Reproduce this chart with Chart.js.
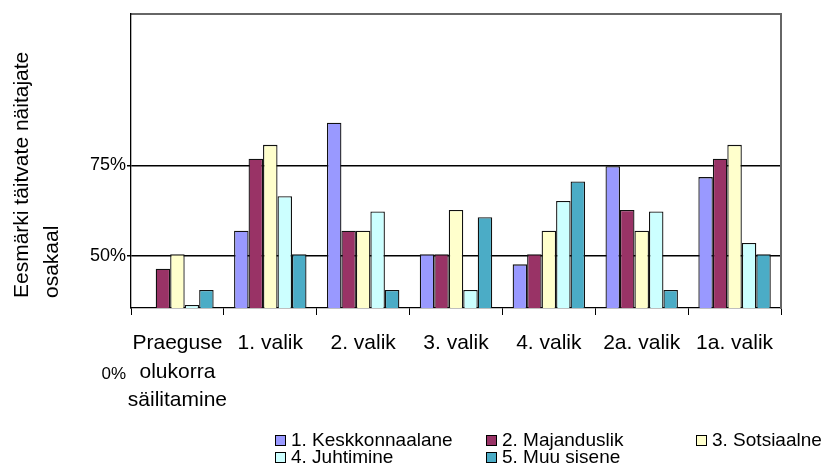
<!DOCTYPE html>
<html>
<head>
<meta charset="utf-8">
<script src="https://cdn.jsdelivr.net/npm/chart.js@4.4.1/dist/chart.umd.min.js"></script>
<style>
  html, body { margin: 0; padding: 0; background: #fff; }
  #wrap { position: relative; width: 828px; height: 464px; }
</style>
</head>
<body>
<div id="wrap"><canvas id="c" width="828" height="464"></canvas></div>
<script>
const categories = [['Praeguse', 'olukorra', 'säilitamine'], '1. valik', '2. valik', '3. valik', '4. valik', '2a. valik', '1a. valik'];
const seriesNames = ['1. Keskkonnaalane', '2. Majanduslik', '3. Sotsiaalne', '4. Juhtimine', '5. Muu sisene'];
const keskkonnaalane = [null, 57.0, 86.8, 50.5, 47.7, 74.8, 71.8];
const majanduslik   = [46.5, 76.9, 57.0, 50.5, 50.5, 62.7, 76.9];
const sotsiaalne    = [50.5, 80.7, 57.0, 62.7, 57.0, 57.0, 80.7];
const juhtimine     = [36.5, 66.5, 62.3, 40.6, 65.2, 62.3, 53.6];
const muuSisene     = [40.6, 50.5, 40.6, 60.7, 70.6, 40.6, 50.5];
const yTicks = [50, 75];
const yExtraLabel = '0%';
const yTitleLines = ['Eesmärki täitvate näitajate', 'osakaal'];
const yMin = 35.64, yMax = 116.85;

const colors = ['#9999FF', '#993366', '#FFFFCC', '#CCFFFF', '#4BACC6'];
const seriesData = [keskkonnaalane, majanduslik, sotsiaalne, juhtimine, muuSisene];
const FONT = "'Liberation Sans', Arial, sans-serif";

const datasets = seriesNames.map((n, i) => ({
  label: n,
  data: seriesData[i],
  backgroundColor: colors[i],
  borderColor: '#111',
  borderWidth: 1.3,
  borderSkipped: false,
  categoryPercentage: 0.78,
  barPercentage: 1.0
}));

const decor = {
  id: 'decor',
  afterDraw(chart) {
    const ctx = chart.ctx;
    ctx.save();
    // y title
    ctx.fillStyle = '#000';
    ctx.font = '21px ' + FONT;
    ctx.textAlign = 'left';
    ctx.textBaseline = 'alphabetic';
    const startY = 298;
    const baseX = [28, 58];
    yTitleLines.forEach((t, i) => {
      ctx.save();
      ctx.translate(baseX[i], startY);
      ctx.rotate(-Math.PI / 2);
      ctx.fillText(t, 0, 0);
      ctx.restore();
    });

    // stray 0% label
    ctx.font = '17px ' + FONT;
    ctx.textAlign = 'right';
    ctx.fillText(yExtraLabel, 126, 379);

    // legend
    const colX = [275, 486, 696];
    const rowBoxTop = [435, 452];
    const rowBase = [446, 462.5];
    ctx.font = '19px ' + FONT;
    ctx.textAlign = 'left';
    chart.data.datasets.forEach((ds, i) => {
      const col = i % 3, row = Math.floor(i / 3);
      const x = colX[col], y = rowBoxTop[row];
      ctx.fillStyle = '#000';
      ctx.fillRect(x, y, 11, 11);
      ctx.fillStyle = ds.backgroundColor;
      ctx.fillRect(x + 1, y + 1, 9, 9);
      ctx.fillStyle = '#000';
      ctx.fillText(ds.label, x + 16, rowBase[row]);
    });
    ctx.restore();
  }
};

new Chart(document.getElementById('c'), {
  type: 'bar',
  data: { labels: categories, datasets },
  plugins: [decor],
  options: {
    responsive: false,
    animation: false,
    layout: { padding: { top: 14, right: 47, bottom: 0, left: 0 } },
    plugins: { legend: { display: false }, tooltip: { enabled: false } },
    scales: {
      x: {
        grid: { offset: true, drawOnChartArea: false, color: '#000', tickLength: 7, lineWidth: 1 },
        border: { color: '#000', width: 1.3 },
        ticks: { color: '#000', font: { family: FONT, size: 21, lineHeight: 1.36 }, padding: 14, maxRotation: 0, autoSkip: false },
        afterFit(s) { s.height = 156; }
      },
      xTop: {
        type: 'category', position: 'top', labels: categories,
        grid: { display: false, drawTicks: false },
        border: { display: true, color: '#666', width: 2 },
        ticks: { display: false },
        afterFit(s) { s.height = 0; }
      },
      y: {
        min: yMin, max: yMax,
        z: 1,
        afterBuildTicks(s) { s.ticks = yTicks.map(v => ({ value: v })); },
        grid: { color: '#000', lineWidth: 1.5, tickLength: 4 },
        border: { color: '#000', width: 1.3 },
        ticks: { color: '#000', font: { family: FONT, size: 18 }, padding: 1, callback: v => v + '%' },
        afterFit(s) { s.width = 131; }
      },
      yRight: {
        type: 'linear', position: 'right', min: yMin, max: yMax,
        grid: { display: false, drawTicks: false },
        border: { display: true, color: '#666', width: 2 },
        ticks: { display: false },
        afterFit(s) { s.width = 0; }
      }
    }
  }
});
</script>
</body>
</html>
